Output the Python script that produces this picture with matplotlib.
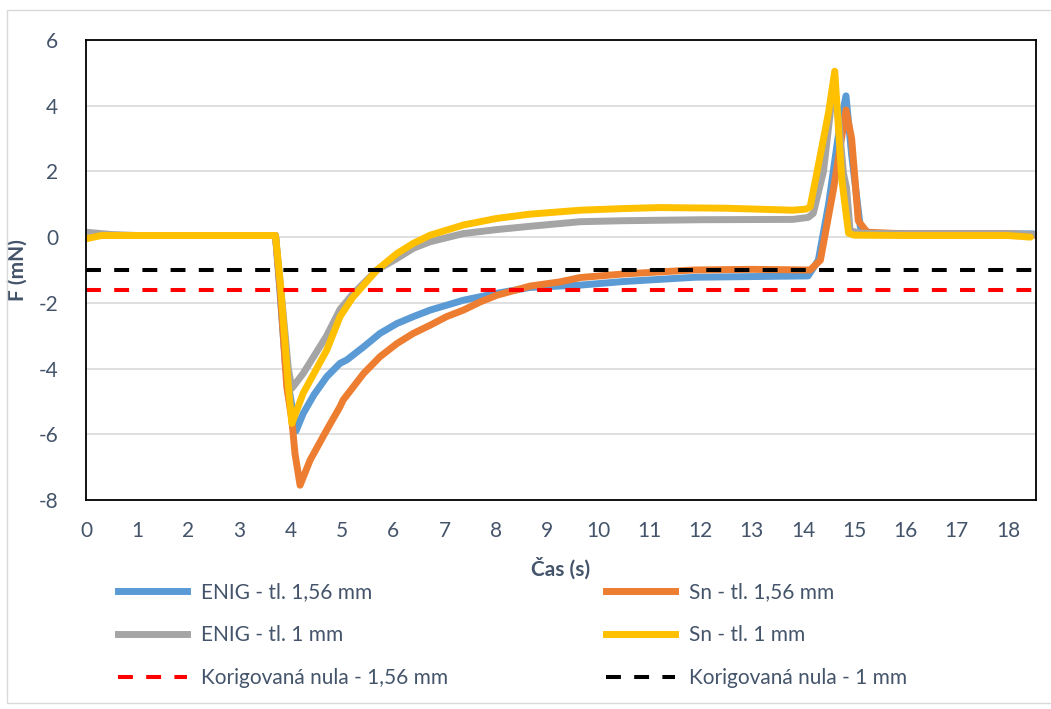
import matplotlib
matplotlib.use("Agg")
import matplotlib.pyplot as plt
from matplotlib.lines import Line2D
from matplotlib.patches import Rectangle

# force curves (time in s, force in mN)
t_enig_156 = [0, 1, 2, 3, 3.7, 3.78, 3.9, 4.1, 4.24, 4.45, 4.7, 4.96, 5.09, 5.42, 5.74,
              6.07, 6.39, 6.72, 7.37, 8.02, 8.67, 9.65, 10.5, 11.9, 13.0, 14.1, 14.3,
              14.5, 14.7, 14.84, 14.95, 15.12, 15.3, 16, 17, 18, 18.5]
f_enig_156 = [0.05, 0.05, 0.05, 0.05, 0.05, -1.5, -4.0, -5.9, -5.37, -4.8, -4.25, -3.84,
              -3.74, -3.34, -2.93, -2.63, -2.42, -2.22, -1.92, -1.71, -1.53, -1.46, -1.35,
              -1.22, -1.2, -1.18, -0.7, 1.0, 3.2, 4.3, 2.5, 0.3, 0.12, 0.1, 0.1, 0.1, 0.1]

t_sn_156 = [0, 1, 2, 3, 3.7, 3.8, 3.92, 4.02, 4.08, 4.18, 4.375, 4.7, 4.96, 5.02, 5.42,
            5.74, 6.07, 6.39, 6.72, 7.04, 7.37, 7.7, 8.02, 8.67, 9.26, 9.65, 10.5, 11.86,
            13.0, 14.14, 14.34, 14.6, 14.84, 14.95, 15.08, 15.25, 16, 17, 18, 18.55]
f_sn_156 = [0.05, 0.05, 0.05, 0.05, 0.05, -1.8, -4.55, -5.57, -6.58, -7.55, -6.79, -5.87,
            -5.16, -4.96, -4.15, -3.64, -3.24, -2.93, -2.68, -2.42, -2.22, -1.97, -1.77,
            -1.49, -1.36, -1.23, -1.12, -1.0, -0.98, -1.0, -0.7, 1.5, 3.87, 3.0, 0.5,
            0.15, 0.1, 0.1, 0.1, 0.06]

t_enig_1 = [0, 0.5, 1, 2, 3, 3.7, 3.8, 3.95, 4.02, 4.24, 4.7, 4.96, 5.2, 5.68, 6.07,
            6.39, 6.72, 7.37, 8.02, 8.67, 9.65, 10.5, 12, 13.8, 14.1, 14.2, 14.4, 14.6,
            14.7, 14.79, 14.85, 14.92, 15.1, 16, 17, 18, 18.5]
f_enig_1 = [0.15, 0.08, 0.05, 0.05, 0.05, 0.05, -1.5, -4.0, -4.6, -4.15, -3.0, -2.2,
            -1.75, -1.0, -0.65, -0.34, -0.14, 0.11, 0.23, 0.33, 0.47, 0.5, 0.53, 0.54,
            0.6, 0.72, 2.0, 4.7, 3.5, 1.95, 1.5, 0.2, 0.12, 0.1, 0.1, 0.1, 0.08]

t_sn_1 = [0, 0.3, 1, 2, 3, 3.7, 3.8, 3.95, 4.02, 4.24, 4.7, 4.96, 5.2, 5.68, 6.07, 6.39,
          6.72, 7.37, 8.02, 8.67, 9.65, 10.5, 11.2, 12.5, 13.8, 14.05, 14.14, 14.37,
          14.5, 14.62, 14.76, 14.89, 15.0, 16, 17, 18, 18.44]
f_sn_1 = [-0.05, 0.05, 0.05, 0.05, 0.05, 0.05, -1.5, -4.5, -5.67, -4.75, -3.44, -2.42,
          -1.85, -1.0, -0.5, -0.19, 0.06, 0.37, 0.57, 0.7, 0.82, 0.87, 0.9, 0.88, 0.82,
          0.85, 0.92, 2.75, 3.8, 5.05, 1.73, 0.12, 0.06, 0.05, 0.05, 0.05, 0.0]

# corrected zero levels
t_korig = [0, 18.5]
korig_156 = -1.6
korig_1 = -1.0

labels = ["ENIG - tl. 1,56 mm", "Sn - tl. 1,56 mm", "ENIG - tl. 1 mm", "Sn - tl. 1 mm",
          "Korigovaná nula - 1,56 mm", "Korigovaná nula - 1 mm"]
x_ticks = list(range(0, 19))
y_ticks = [-8, -6, -4, -2, 0, 2, 4, 6]

plt.rcParams["font.family"] = ["Lato", "DejaVu Sans"]
plt.rcParams["axes.unicode_minus"] = False
txt = "#44546A"

W, H = 1051, 709
fig = plt.figure(figsize=(W / 100, H / 100), dpi=100)
ax = fig.add_axes([86 / W, 1 - 500 / H, (1036 - 86) / W, (500 - 40) / H])

lw = 5
style = dict(lw=lw, solid_joinstyle="round", solid_capstyle="round")
ax.plot(t_enig_156, f_enig_156, color="#5B9BD5", **style)
ax.plot(t_sn_156, f_sn_156, color="#ED7D31", **style)
ax.plot(t_enig_1, f_enig_1, color="#A5A5A5", **style)
ax.plot(t_sn_1, f_sn_1, color="#FFC000", **style)
ax.plot(t_korig, [korig_156] * 2, color="#FF0000", lw=2.9, dashes=(3.7, 3.3))
ax.plot(t_korig, [korig_1] * 2, color="black", lw=2.9, dashes=(3.7, 3.3))

ax.set_xlim(0, 18.55)
ax.set_ylim(-8, 6)
ax.set_xticks(x_ticks)
ax.set_yticks(y_ticks)
ax.set_xticks([0, 10], minor=True)
ax.tick_params(axis="x", which="major", length=0, pad=15, labelsize=15, labelcolor=txt)
ax.tick_params(axis="x", which="minor", length=6, width=1.2, direction="out", color="black")
ax.tick_params(axis="y", length=0, pad=20, labelsize=15, labelcolor=txt)
ax.grid(axis="y", color="#D9D9D9", lw=1.2)
ax.set_axisbelow(True)
for s in ax.spines.values():
    s.set_color("black")
    s.set_linewidth(1.3)

ax.set_xlabel("Čas (s)", fontsize=15, fontweight="bold", color=txt, labelpad=12)
ax.set_ylabel("F (mN)", fontsize=15, fontweight="bold", color=txt, labelpad=8)

# legend split into two columns
colors = ["#5B9BD5", "#ED7D31", "#A5A5A5", "#FFC000", "#FF0000", "black"]
handles = []
for i, c in enumerate(colors):
    if i < 4:
        handles.append(Line2D([], [], color=c, lw=5))
    else:
        handles.append(Line2D([], [], color=c, lw=2.9, dashes=(3.7, 3.3)))

leg_kw = dict(frameon=False, fontsize=15, handlelength=3.3, handletextpad=0.7,
              labelspacing=1.1, borderpad=0, borderaxespad=0, labelcolor=txt,
              loc="upper left")
fig.legend([handles[0], handles[2], handles[4]], [labels[0], labels[2], labels[4]],
           bbox_to_anchor=(118 / W, 1 - 582 / H), **leg_kw)
fig.legend([handles[1], handles[3], handles[5]], [labels[1], labels[3], labels[5]],
           bbox_to_anchor=(606 / W, 1 - 582 / H), **leg_kw)

fig.patches.append(Rectangle((7 / W, 1 - 703 / H), 1.1, (703 - 10) / H,
                             transform=fig.transFigure, fill=False,
                             edgecolor="#D9D9D9", lw=1))

fig.savefig("out.png", dpi=100)
